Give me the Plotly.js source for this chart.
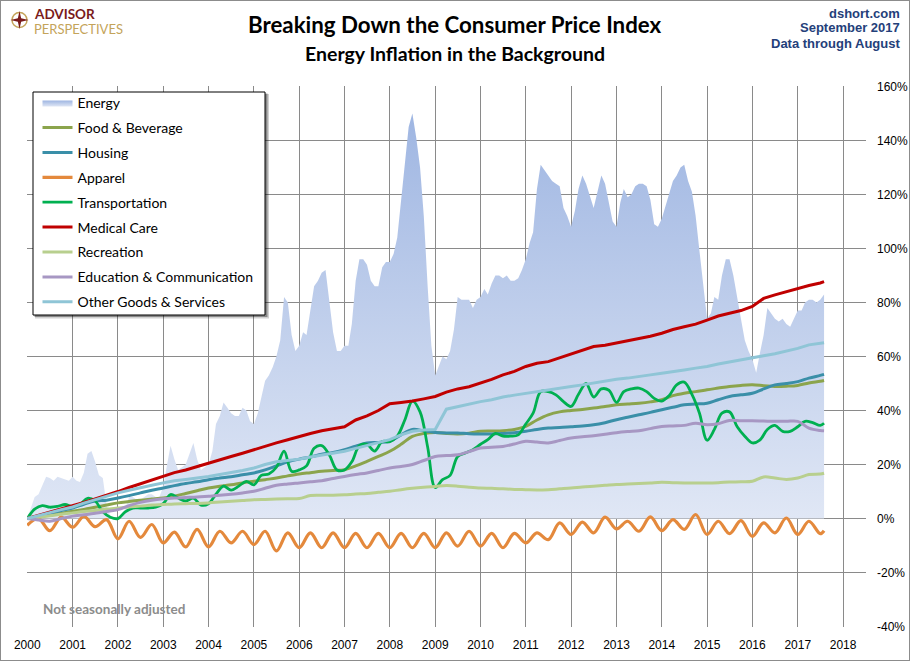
<!DOCTYPE html>
<html><head><meta charset="utf-8">
<script src="https://cdn.plot.ly/plotly-3.0.1.min.js"></script>
<style>
html,body{margin:0;padding:0;background:#fff;}
#chart{width:908px;height:659px;border:1px solid #8c8c8c;}
</style></head>
<body><div id="chart"></div>
<script>
// ---------------- DATA (% change since Jan 2000) ----------------
// Energy: monthly, Jan 2000 .. Aug 2017
const energy = [
 0, 4, 8, 9, 12, 15.5, 15, 14, 15.5, 15, 14.5, 14,
 15.5, 14, 13.5, 17, 24, 25, 21, 16, 15, 5, 1, 0,
 0, 1, 4, 8, 8, 7, 7, 8, 9, 9, 8, 8,
 12, 20, 27, 22, 18, 19, 20, 24, 28, 22, 18, 19,
 20, 25, 35, 38, 43, 41, 39, 38, 38, 41, 40, 36,
 35, 39, 45, 51, 53, 56, 60, 66, 82, 80, 68, 62,
 64, 69, 68, 78, 86, 88, 91, 92, 80, 69, 62, 62,
 64, 64, 72, 88, 96, 96, 94, 88, 86, 86, 93, 95,
 95, 98, 104, 117, 132, 145, 150, 141, 130, 112, 86, 64,
 53, 57, 60, 59, 62, 70, 82, 81, 81, 81, 78, 81,
 82, 85, 83, 87, 90, 90, 89, 90, 88, 88, 89, 92,
 96, 102, 106, 122, 131, 129, 127, 125, 124, 123, 115, 112,
 108, 114, 122, 127, 124, 119, 115, 121, 127, 124, 117, 110,
 108, 117, 122, 119, 120, 123, 124, 124, 123, 118, 109, 108,
 111, 116, 120, 125, 127, 130, 131, 125, 121, 112, 99, 87,
 74, 76, 82, 81, 90, 96, 96, 90, 81, 74, 66, 62,
 59, 54, 61, 68, 78, 76, 74, 73, 74, 72, 71, 74,
 77, 77, 80, 81, 81, 80, 81, 83
];
// Transportation: every 2 months (Jan, Mar, May...) plus Aug 2017
const transportation = [
 0, 3.5, 4.8, 4.2, 4.5, 5.2,   4.5, 5.2, 7.5, 6.5, 2.5, 0.5,
 0, 2.5, 3.9, 3.9, 3.9, 4.2,   5.5, 8.9, 7.6, 6.5, 7.6, 5,
 5.5, 9, 12, 10.5, 12, 13.8,   12.5, 16, 16.5, 19, 25, 17.5,
 18, 19.5, 26, 27, 23.5, 18,   18, 21, 27, 27.5, 25, 28.5,
 28.5, 30.5, 36.5, 43.5, 39.5, 26.5,   11.5, 14.4, 16, 23, 24.3, 25.5,
 27.5, 29.2, 31.5, 30.5, 30.5, 31,   35, 39, 47, 47, 45.8, 43.3,
 41.5, 46, 50, 45, 48, 47.5,   43, 47, 48, 48.3, 47, 44.5,
 43.5, 45.5, 49.5, 50.5, 46, 39,   29, 33, 39, 39.5, 34, 30.5,
 28, 29, 33, 34.5, 32.3, 32.3,   34, 36, 35.5, 34.5, 35.3
];
// Quarterly series (Jan, Apr, Jul, Oct) plus Aug 2017
const food = [
 0, 0.7, 1.3, 2,  2.7, 3.4, 4.2, 5,  5.8, 6.3, 6.8, 7.2,  7.6, 8.3, 9.3, 10.3,
 11.3, 12, 12.5, 13.2,  13.8, 14.4, 15, 15.8,  16.5, 17, 17.5, 17.8,  18.1, 19.5, 21.2, 23,
 24.9, 27.5, 30.4, 31.5,  31.9, 31.5, 31.3, 31.6,  32.3, 32.4, 32.5, 33,  34.1, 36.5, 38.4, 39.5,
 40, 40.4, 40.9, 41.5,  42.1, 42.4, 42.7, 43.2,  44, 45.5, 46.4, 47,  47.7, 48.3, 48.9, 49.3,
 49.5, 49.2, 48.9, 49,  49.3, 50.2, 50.8, 51.1
];
const housing = [
 0, 1, 2, 3,  3.9, 5.3, 6.5, 6.8,  7.6, 8.5, 9.5, 10.5,  11.3, 12.2, 13, 13.6,
 14.4, 15, 15.5, 16.2,  16.9, 18, 19.5, 21,  22, 22.8, 23.8, 24.5,  25.5, 26.8, 28, 28.2,
 28.6, 31, 33, 32.5,  31.9, 31.7, 31.7, 31.4,  31.3, 31.3, 31.5, 31.8,  32.3, 33, 33.5, 33.7,
 34, 34.3, 34.7, 35.5,  36.6, 37.5, 38.4, 39.3,  40.3, 41.2, 42.1, 42.4,  42.7, 44, 45.2, 45.8,
 46.4, 48, 49.5, 50,  50.7, 52, 53, 53.4
];
const apparel = [
 -2.5, 0, -4.5, 0.5,  -3.2, 0.8, -3, -0.4,  -7.5, -1, -7, -2.2,  -9, -5, -10.5, -4,
 -10.5, -4.7, -9, -4.7,  -9.6, -4.7, -12, -5.3,  -10.8, -5.3, -10.8, -5.3,  -10.8, -5.5, -10.8, -5.5,
 -10.8, -5.5, -10.8, -5.5,  -10.8, -5.3, -10.2, -4.7,  -10.2, -5.5, -10.8, -5.5,  -9, -5.3, -7.8, -1.6,
 -5.9, -1.3, -5.3, 0.5,  -3.8, -1, -4.7, 0.6,  -4.5, -0.4, -4, 1.5,  -5.9, -1, -5.6, -0.8,
 -6.6, -1.6, -5.3, 0.2,  -5.9, -1, -5.6, -4.5
];
const medical = [
 0, 1.2, 2.3, 3.5,  4.6, 6, 7.3, 8.6,  10, 11.5, 12.8, 14.2,  15.6, 17, 18, 19.3,
 20.6, 22, 23, 24.2,  25.5, 27, 28, 29.2,  30.5, 31.5, 32.5, 33.2,  34, 36.5, 38, 40,
 42.5, 43, 43.5, 44.3,  45.2, 46.8, 48, 48.8,  50.1, 51.5, 53.2, 54.5,  56.3, 57.5, 58.1, 59.5,
 61, 62.5, 63.7, 64.2,  65, 65.8, 66.7, 67.5,  68.6, 70, 71, 72,  73.5, 75, 76, 77,
 78.5, 81.5, 82.8, 84,  85.3, 86.3, 87.2, 87.7
];
const recreation = [
 0, 0.5, 1, 1.6,  2.1, 2.6, 3, 3.5,  3.9, 4.3, 4.6, 5,  5.2, 5.4, 5.5, 5.6,
 5.8, 6.1, 6.4, 6.7,  7, 7.1, 7.2, 7.3,  7.4, 8.5, 8.6, 8.6,  8.8, 9.1, 9.3, 9.7,
 10.1, 10.7, 11.2, 11.6,  11.9, 12.2, 12, 11.6,  11.3, 11.2, 11, 10.8,  10.7, 10.6, 10.7, 11,
 11.3, 11.7, 12, 12.3,  12.6, 12.8, 13, 13.2,  13.4, 13.3, 13.2, 13.2,  13.2, 13.3, 13.5, 13.6,
 13.8, 15.4, 15, 14.5,  15, 16.3, 16.5, 16.8
];
const education = [
 0, -0.5, -1, 0,  0.9, 1.4, 2, 2.6,  3.3, 4.8, 6, 6.8,  7.3, 7.6, 7.8, 8,
 8.3, 8.6, 9, 9.5,  10.1, 11.2, 12.3, 12.8,  13.2, 13.6, 14, 14.8,  15.6, 16.3, 16.9, 17.8,
 18.7, 19.3, 20, 21.5,  23, 23.3, 23.6, 24.8,  26.1, 26.4, 26.7, 27.6,  28.6, 28.3, 28, 28.9,
 29.8, 30.3, 30.7, 31.2,  31.8, 32.2, 32.5, 33.3,  34.1, 34.3, 34.5, 35.3,  34.7, 35.1, 36.3, 36.2,
 36.2, 36.1, 36, 36,  36, 33.5, 32.6, 32.5
];
const otherGoods = [
 0, 1.2, 2.2, 3.3,  4.3, 5.7, 7, 8.3,  9.5, 10.5, 11.3, 12.3,  13.2, 14, 14.5, 15,
 15.6, 16.3, 17, 17.8,  18.7, 20, 21, 21.5,  22, 22.8, 23.5, 24.2,  24.9, 26, 27, 28,
 29.2, 31, 32.3, 32.8,  33, 40.5, 41.5, 42.5,  43.3, 44, 45, 45.7,  46.4, 47, 47.5, 48.2,
 48.9, 49.5, 50.2, 51,  51.6, 52, 52.5, 53.2,  53.8, 54.3, 55, 55.7,  56.3, 57.2, 58, 58.8,
 59.7, 60.3, 61, 62,  63, 64.3, 64.8, 65.1
];
const seriesNames = ['Energy','Food & Beverage','Housing','Apparel','Transportation',
  'Medical Care','Recreation','Education & Communication','Other Goods & Services'];
const yTickVals = [-40,-20,0,20,40,60,80,100,120,140,160];
const yTickText = ['-40%','-20%','0%','20%','40%','60%','80%','100%','120%','140%','160%'];

// ---------------- x dates (month sequences, Jan 2000 .. Aug 2017) ----------------
function monthSeq(step){
  const out=[];
  for(let m=0;m<=211;m+=step){
    const y=2000+Math.floor(m/12), mo=m%12+1;
    out.push(y+'-'+String(mo).padStart(2,'0')+'-01');
  }
  if(out[out.length-1]!=='2017-08-01') out.push('2017-08-01');
  return out;
}
const xMonthly = monthSeq(1), xBi = monthSeq(2), xQ = monthSeq(3);

// ---------------- layout helpers ----------------
const W=908,H=659,M={l:26,r:43,t:85,b:33};
const PW=W-M.l-M.r, PH=H-M.t-M.b;
const px=x=>(x-27)/PW, py=y=>(627-y)/PH;

const colors = {food:'#8BA44C',housing:'#3A8FA8',apparel:'#E4893C',transport:'#00B050',
  medical:'#C00000',recreation:'#B8CF8E',education:'#A797C3',other:'#8FC5D6'};

function line(name,x,y,color,width,shape,g){
  return {type:'scatter',mode:'lines',name,x,y,legendgroup:g,
    line:{color,width,shape:shape||'linear',smoothing:1}, hoverinfo:'skip'};
}
const traces = [
  {type:'scatter',mode:'lines',name:seriesNames[0],x:xMonthly,y:energy,legendgroup:'g0',
   fill:'tozeroy',line:{width:0,color:'#b4c6ea'},
   fillgradient:{type:'vertical',colorscale:[[0,'#E0E7F5'],[1,'#9FB6E2']]},hoverinfo:'skip'},
  line(seriesNames[1],xQ,food,colors.food,3,'spline','g1'),
  line(seriesNames[2],xQ,housing,colors.housing,3,'spline','g2'),
  line(seriesNames[3],xQ,apparel,colors.apparel,3.2,'spline','g3'),
  line(seriesNames[4],xBi,transportation,colors.transport,2.8,'spline','g4'),
  line(seriesNames[5],xQ,medical,colors.medical,3,'linear','g5'),
  line(seriesNames[6],xQ,recreation,colors.recreation,3,'spline','g6'),
  line(seriesNames[7],xQ,education,colors.education,3,'spline','g7'),
  line(seriesNames[8],xQ,otherGoods,colors.other,3,'linear','g8')
];

// logo star path
function star(cx,cy,R,r){
  let d='';
  for(let i=0;i<8;i++){
    const a=Math.PI/2*i/2 - Math.PI/2, rad=(i%2===0)?R:r;
    const x=cx+rad*Math.cos(a), y=cy+rad*Math.sin(a);
    d+=(i===0?'M':'L')+px(x)+','+py(y)+' ';
  }
  return d+'Z';
}
const tickFont = {family:'Liberation Sans, Arial',size:12,color:'#000'};
const layout = {
  width:W,height:H,margin:M,paper_bgcolor:'#fff',plot_bgcolor:'#fff',
  showlegend:true,
  xaxis:{type:'date',range:['1999-12-30','2018-07-05'],tick0:'2000-01-01',dtick:'M12',
    tickformat:'%Y',showgrid:true,gridcolor:'#8a8a8a',gridwidth:1,zeroline:false,showline:false,
    ticks:'',ticklabelstandoff:9,tickfont:tickFont},
  yaxis:{side:'right',range:[-40.15,160.15],tickmode:'array',tickvals:yTickVals,ticktext:yTickText,
    showgrid:true,gridcolor:'#8a8a8a',gridwidth:1,zeroline:false,showline:false,ticks:'',
    ticklabelstandoff:10,tickfont:tickFont},
  legend:{x:px(37.5),y:py(87),xanchor:'left',yanchor:'top',bgcolor:'rgba(0,0,0,0)',
    borderwidth:0,font:{family:'Lato',size:14,color:'#000'},tracegroupgap:3.7,traceorder:'grouped',itemwidth:30},
  shapes:[
    // legend frame with soft shadow
    {type:'rect',xref:'paper',yref:'paper',x0:px(35),x1:px(269),y0:py(318.5),y1:py(94),
     fillcolor:'rgba(0,0,0,0.18)',line:{width:0}},
    {type:'rect',xref:'paper',yref:'paper',x0:px(34.5),x1:px(267.5),y0:py(317),y1:py(93.5),
     fillcolor:'rgba(0,0,0,0.35)',line:{width:0}},
    {type:'rect',xref:'paper',yref:'paper',x0:px(33),x1:px(265),y0:py(315),y1:py(92),
     fillcolor:'#ffffff',line:{color:'#000',width:1}},
    // logo
    {type:'circle',xref:'paper',yref:'paper',x0:px(12),x1:px(27),y0:py(27.5),y1:py(12.5),
     line:{color:'#C4A45A',width:1.5}},
    {type:'path',xref:'paper',yref:'paper',path:star(19.5,20,9,2.3),fillcolor:'#7A1B1B',line:{width:0}}
  ],
  annotations:[
    {xref:'paper',yref:'paper',x:px(455),y:py(25),xanchor:'center',yanchor:'middle',showarrow:false,
     text:'<b>Breaking Down the Consumer Price Index</b>',font:{family:'Lato',size:22.3,color:'#000'}},
    {xref:'paper',yref:'paper',x:px(455),y:py(54),xanchor:'center',yanchor:'middle',showarrow:false,
     text:'<b>Energy Inflation in the Background</b>',font:{family:'Lato',size:19.5,color:'#000'}},
    {xref:'paper',yref:'paper',x:px(902),y:py(13),xanchor:'right',yanchor:'middle',showarrow:false,
     text:'<b>dshort.com</b>',font:{family:'Liberation Sans, Arial',size:13,color:'#24407A'}},
    {xref:'paper',yref:'paper',x:px(902),y:py(28),xanchor:'right',yanchor:'middle',showarrow:false,
     text:'<b>September 2017</b>',font:{family:'Liberation Sans, Arial',size:13,color:'#24407A'}},
    {xref:'paper',yref:'paper',x:px(902),y:py(43),xanchor:'right',yanchor:'middle',showarrow:false,
     text:'<b>Data through August</b>',font:{family:'Liberation Sans, Arial',size:13,color:'#24407A'}},
    {xref:'paper',yref:'paper',x:px(32),y:py(14),xanchor:'left',yanchor:'middle',showarrow:false,
     text:'<b>ADVISOR</b>',font:{family:'Lato',size:13.5,color:'#7A1B1B'}},
    {xref:'paper',yref:'paper',x:px(32),y:py(29),xanchor:'left',yanchor:'middle',showarrow:false,
     text:'PERSPECTIVES',font:{family:'Lato',size:13,color:'#C4A45A'}},
    {xref:'paper',yref:'paper',x:px(41),y:py(609),xanchor:'left',yanchor:'middle',showarrow:false,
     text:'<b>Not seasonally adjusted</b>',font:{family:'Lato',size:13.5,color:'#8c8c8c'}}
  ]
};
Plotly.newPlot('chart',traces,layout,{displayModeBar:false,staticPlot:true});
</script>
</body></html>
